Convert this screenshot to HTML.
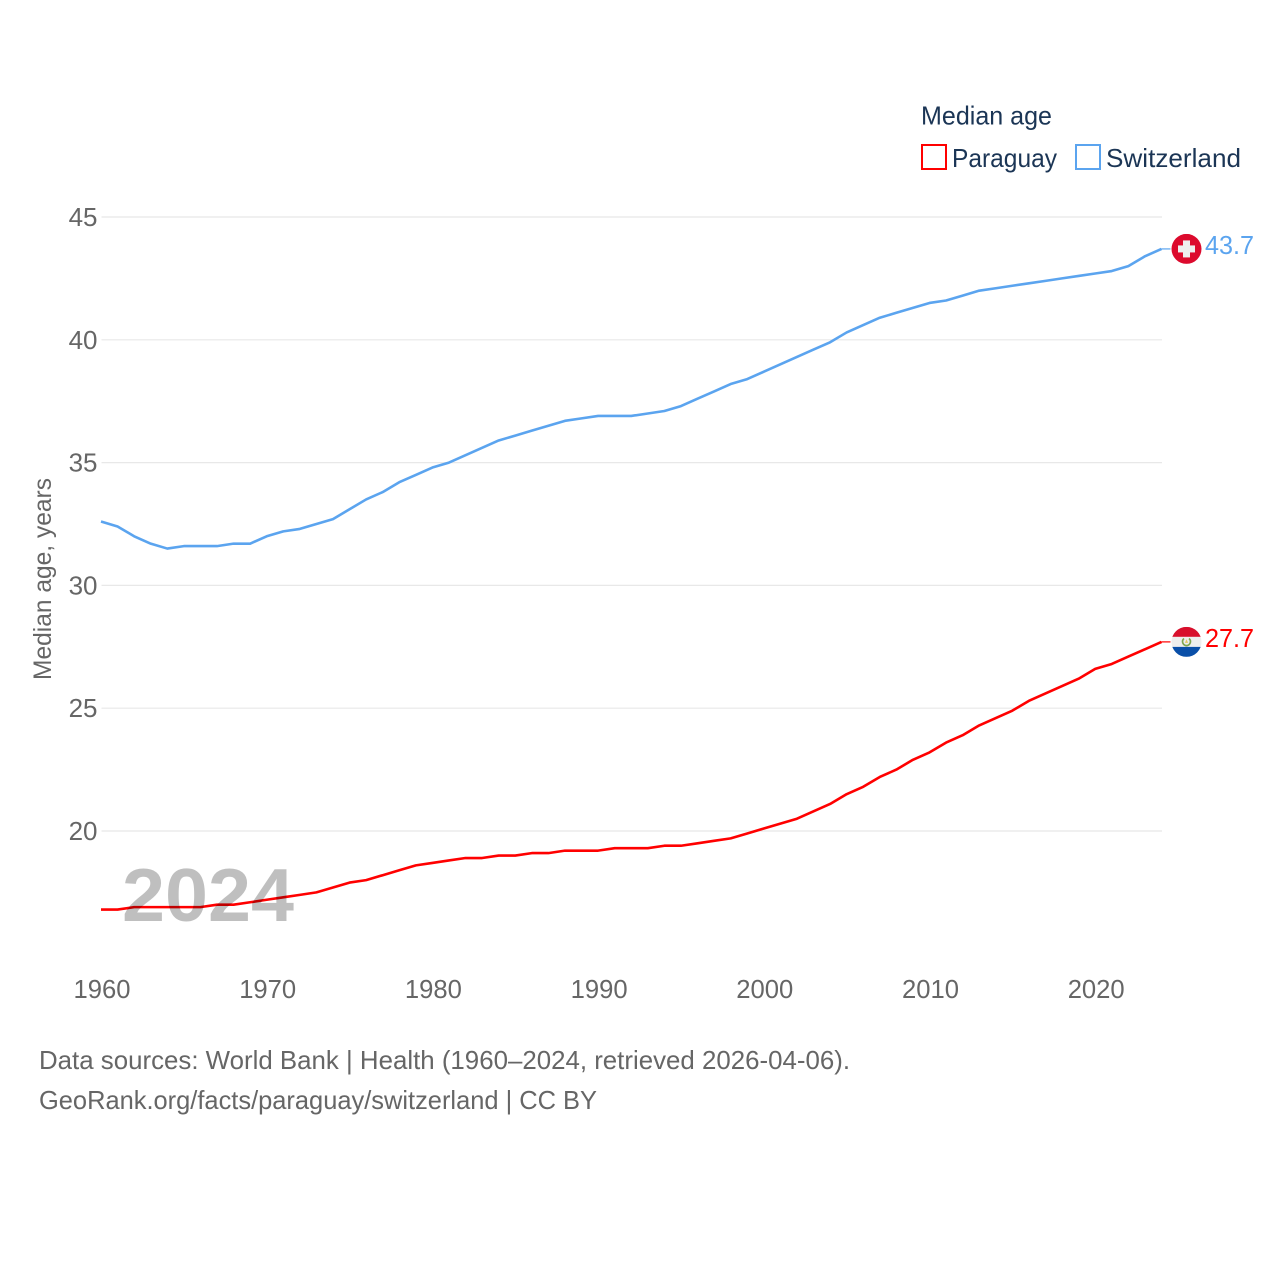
<!DOCTYPE html>
<html lang="en">
<head>
<meta charset="utf-8">
<title>Median age: Paraguay and Switzerland</title>
<style>
html,body{margin:0;padding:0;background:#fff;}
svg{display:block;}
text{font-family:"Liberation Sans",sans-serif;}
</style>
</head>
<body>
<svg id="chart" xmlns="http://www.w3.org/2000/svg" width="1280" height="1280" viewBox="0 0 1280 1280">
  <defs>
    <clipPath id="ch-clip"><circle cx="0" cy="0" r="15"/></clipPath>
    <clipPath id="py-clip"><circle cx="0" cy="0" r="15"/></clipPath>
  </defs>
  <g id="grid"></g>
  <g id="yticks"></g>
  <g id="xticks"></g>
  <text transform="translate(51,680) rotate(-90)" font-size="25" fill="#666" textLength="202" lengthAdjust="spacingAndGlyphs">Median age, years</text>
  <g id="series"></g>
  <text x="122" y="921" font-size="75" font-weight="bold" fill="#000" fill-opacity="0.25" textLength="172" lengthAdjust="spacingAndGlyphs">2024</text>
  <g id="flag-ch">
    <g clip-path="url(#ch-clip)">
      <rect x="-15" y="-15" width="30" height="30" fill="#dc0a2d"/>
      <rect x="-8.5" y="-3.5" width="17" height="7" fill="#eee"/>
      <rect x="-3.5" y="-8.5" width="7" height="17" fill="#eee"/>
    </g>
  </g>
  <g id="flag-py">
    <g clip-path="url(#py-clip)">
      <rect x="-15" y="-15" width="30" height="10" fill="#d80f2c"/>
      <rect x="-15" y="-5" width="30" height="10" fill="#eeeeee"/>
      <rect x="-15" y="5" width="30" height="10" fill="#0a4fa8"/>
      <path d="M -2.5 -3.4 A 4 4 0 1 0 2.5 -3.4" fill="none" stroke="#7fa650" stroke-width="1.7"/>
      <path d="M 0 -2.6 L 1.6 1 L -1.6 1 Z" fill="#e6c860"/>
    </g>
  </g>
  <text id="label-ch" x="1205" font-size="26" fill="#5ba4ef" textLength="49" lengthAdjust="spacingAndGlyphs"></text>
  <text id="label-py" x="1205" font-size="26" fill="#ff0000" textLength="49" lengthAdjust="spacingAndGlyphs"></text>
  <g>
    <text x="921" y="124.5" font-size="26" fill="#1b3555" textLength="131" lengthAdjust="spacingAndGlyphs">Median age</text>
    <g>
      <rect x="922" y="145" width="24" height="24" fill="#fff" stroke="#ff0000" stroke-width="2"/>
      <text x="952" y="167" font-size="26" fill="#1b3555" textLength="105" lengthAdjust="spacingAndGlyphs">Paraguay</text>
    </g>
    <g>
      <rect x="1076" y="145" width="24" height="24" fill="#fff" stroke="#5ba4ef" stroke-width="2"/>
      <text x="1106" y="167" font-size="26" fill="#1b3555" textLength="135" lengthAdjust="spacingAndGlyphs">Switzerland</text>
    </g>
  </g>
  <text x="39" y="1069" font-size="26" fill="#666" textLength="811" lengthAdjust="spacingAndGlyphs">Data sources: World Bank | Health (1960–2024, retrieved 2026-04-06).</text>
  <text x="39" y="1109" font-size="26" fill="#666" textLength="558" lengthAdjust="spacingAndGlyphs">GeoRank.org/facts/paraguay/switzerland | CC BY</text>
</svg>
<script>
const startYear = 1960;
const xTickLabels = [1960, 1970, 1980, 1990, 2000, 2010, 2020];
const yTickLabels = [20, 25, 30, 35, 40, 45];
const switzerlandValues = [32.6,32.4,32.0,31.7,31.5,31.6,31.6,31.6,31.7,31.7,32.0,32.2,32.3,32.5,32.7,33.1,33.5,33.8,34.2,34.5,34.8,35.0,35.3,35.6,35.9,36.1,36.3,36.5,36.7,36.8,36.9,36.9,36.9,37.0,37.1,37.3,37.6,37.9,38.2,38.4,38.7,39.0,39.3,39.6,39.9,40.3,40.6,40.9,41.1,41.3,41.5,41.6,41.8,42.0,42.1,42.2,42.3,42.4,42.5,42.6,42.7,42.8,43.0,43.4,43.7];
const paraguayValues = [16.8,16.8,16.9,16.9,16.9,16.9,16.9,17.0,17.0,17.1,17.2,17.3,17.4,17.5,17.7,17.9,18.0,18.2,18.4,18.6,18.7,18.8,18.9,18.9,19.0,19.0,19.1,19.1,19.2,19.2,19.2,19.3,19.3,19.3,19.4,19.4,19.5,19.6,19.7,19.9,20.1,20.3,20.5,20.8,21.1,21.5,21.8,22.2,22.5,22.9,23.2,23.6,23.9,24.3,24.6,24.9,25.3,25.6,25.9,26.2,26.6,26.8,27.1,27.4,27.7];

const NS = 'http://www.w3.org/2000/svg';
function xScale(year) { return 101 + (year - 1960) * 16.57; }
function yScale(v) { return 831 - (v - 20) * 24.56; }
function make(tag, attrs, parent) {
  const el = document.createElementNS(NS, tag);
  for (const k in attrs) el.setAttribute(k, attrs[k]);
  parent.appendChild(el);
  return el;
}

const gridG = document.getElementById('grid');
const yG = document.getElementById('yticks');
const xG = document.getElementById('xticks');
const seriesG = document.getElementById('series');

yTickLabels.forEach(function (t) {
  const line = make('line', { x1: 101.5, x2: 1162, y1: yScale(t), y2: yScale(t), stroke: '#e8e8e8', 'stroke-width': 1.2 }, gridG);
  
  
  const label = make('text', { x: 97.5, y: yScale(t) + 9, 'text-anchor': 'end', 'font-size': 26, fill: '#666' }, yG);
  
  
  label.textContent = t;
});

xTickLabels.forEach(function (t) {
  const label = make('text', { x: xScale(t) + 1, y: 998, 'text-anchor': 'middle', 'font-size': 26, fill: '#666', textLength: 57, lengthAdjust: 'spacingAndGlyphs' }, xG);
  
  
  label.textContent = t;
});

function drawSeries(values, color, flagId, labelId, lineName, connectorName) {
  const pts = values.map(function (v, i) { return xScale(startYear + i) + ',' + yScale(v); }).join(' ');
  const line = make('polyline', { points: pts, fill: 'none', stroke: color, 'stroke-width': 2.6, 'stroke-linejoin': 'round' }, seriesG);
  
  
  const last = values[values.length - 1];
  const ly = yScale(last);
  const lx = xScale(startYear + values.length - 1);
  const conn = make('line', { x1: lx, x2: lx + 9, y1: ly, y2: ly, stroke: color, 'stroke-width': 1.2 }, seriesG);
  
  
  document.getElementById(flagId).setAttribute('transform', 'translate(1186.5,' + ly + ')');
  const lab = document.getElementById(labelId);
  lab.setAttribute('y', ly + 5);
  lab.textContent = last.toFixed(1);
}

drawSeries(paraguayValues, '#ff0000', 'flag-py', 'label-py', 'paraguay-line', 'paraguay-connector');
drawSeries(switzerlandValues, '#5ba4ef', 'flag-ch', 'label-ch', 'switzerland-line', 'switzerland-connector');
</script>
</body>
</html>
